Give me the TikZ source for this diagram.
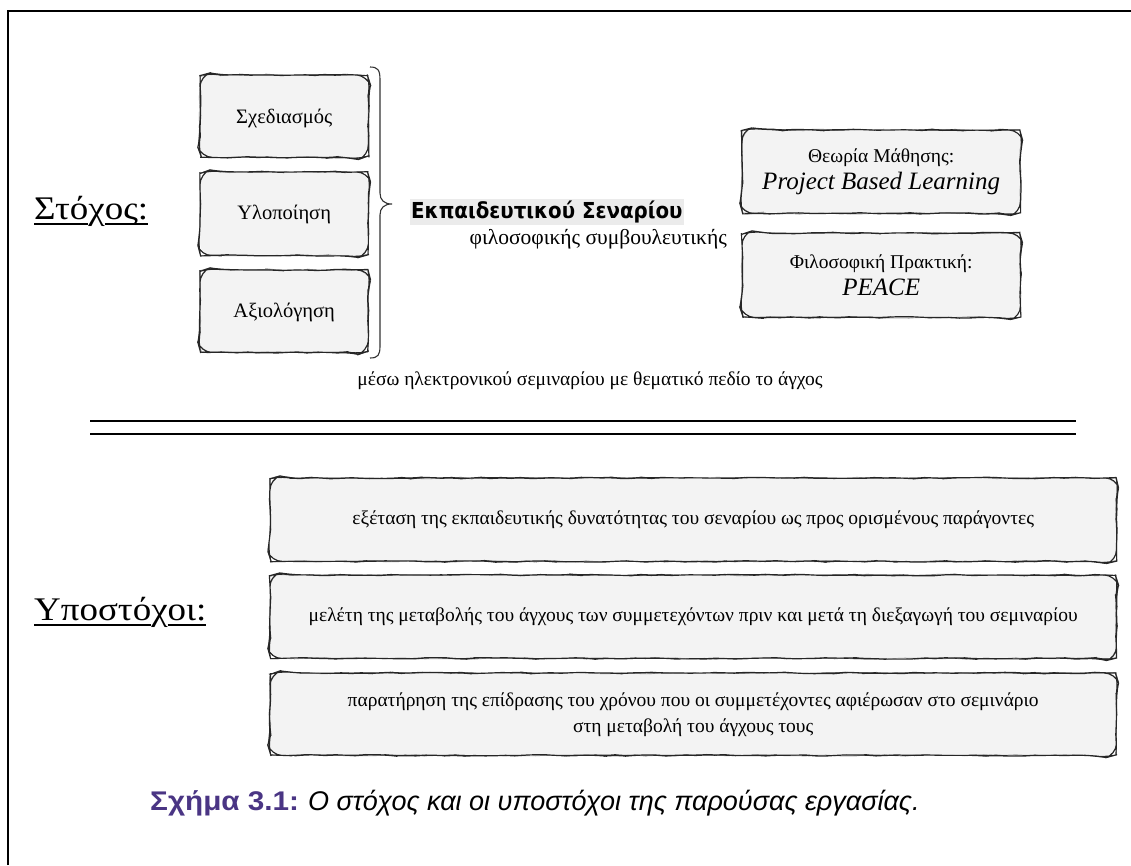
\documentclass[tikz,border=0pt]{standalone}
\usepackage{fontspec}
\setmainfont{Liberation Serif}
\newfontfamily\capfont{Liberation Sans}
\newfontfamily\capboldfont[FakeStretch=1.1]{Liberation Sans Bold}
\newfontfamily\headfont[FakeStretch=0.9]{DejaVu Sans Bold}
\newfontfamily\bigfont[FakeStretch=1.12]{Liberation Serif}
\usetikzlibrary{decorations.pathmorphing}
\definecolor{boxfill}{HTML}{F3F3F3}
\definecolor{capviolet}{HTML}{4A3584}
\definecolor{hilite}{HTML}{EBEBEB}
% underline a piece of text with a solid bar
\newcommand\ulpart[1]{\setbox0\hbox{#1}\rlap{\rule[-6pt]{\wd0}{1.8pt}}\box0}
\tikzset{
  fillbox/.style={fill=boxfill, rounded corners=11pt, inner sep=0pt, anchor=north west},
  sketchline/.style={line width=1.1pt, draw=black!85, rounded corners=11pt,
    decorate, decoration={random steps, segment length=10pt, amplitude=0.8pt}},
  sketchghost/.style={sketchline, line width=0.6pt, draw=black!40},
  plain/.style={inner sep=0pt},
  boxtext/.style={plain, font=\fontsize{19.5}{26}\selectfont, align=center},
  phasetext/.style={plain, font=\fontsize{20.5}{24}\selectfont},
  heading/.style={plain, anchor=base west, font=\bigfont\fontsize{33}{38}\selectfont},
}
% hand-drawn outline around a named box, starting mid-edge so the path closes on a straight run
\newcommand\sketchframe[1]{%
  \draw[sketchghost] ([xshift=3pt]#1.north) -- (#1.north east) -- (#1.south east)
    -- (#1.south west) -- (#1.north west) -- cycle;
  \draw[sketchline] (#1.north) -- (#1.north east) -- (#1.south east)
    -- (#1.south west) -- (#1.north west) -- cycle;}
\begin{document}
\begin{tikzpicture}[x=1pt,y=-1pt]
\useasboundingbox (0,0) rectangle (1131,865);
% frame on the left and top
\draw[line width=1.5pt] (8,865) -- (8,11) -- (1131,11);

% headings
\node[heading] (goal) at (34,219) {\ulpart{Στό}χ\ulpart{ος:}};
\node[heading] (subgoals) at (34,620) {\ulpart{Υποστό}χ\ulpart{οι:}};

% phases of the scenario
\node[fillbox, minimum width=168pt, minimum height=82pt] (design) at (200,75) {};
\sketchframe{design}
\node[phasetext] (designtxt) at ([yshift=-2pt]design.center) {Σχεδιασμός};
\node[fillbox, minimum width=168pt, minimum height=83pt] (impl) at (200,172) {};
\sketchframe{impl}
\node[phasetext] (impltxt) at ([yshift=-1pt]impl.center) {Υλοποίηση};
\node[fillbox, minimum width=168pt, minimum height=82pt] (eval) at (200,270) {};
\sketchframe{eval}
\node[phasetext] (evaltxt) at ([yshift=-1pt]eval.center) {Αξιολόγηση};

% curly brace grouping the three phases
\coordinate (btop) at (370,67);
\coordinate (bbot) at (370,358);
\coordinate (btip) at (392,204);
\draw[line width=1.1pt, black!80]
  (btop) .. controls (378,67) and (380,70) .. (380,80) -- (380,193)
  .. controls (380,200) and (384,204) .. (btip)
  .. controls (384,204) and (380,208) .. (380,215) -- (380,346)
  .. controls (380,355) and (378,358) .. (bbot);

% scenario title
\node[plain, fill=hilite, anchor=west, inner xsep=1pt, inner ysep=2pt] (title) at (410,212)
  {\headfont\fontsize{22}{26}\selectfont Εκπαιδευτικού Σεναρίου};
\node[plain, anchor=east, font=\fontsize{21.5}{24}\selectfont] (philo) at (727,239)
  {φιλοσοφικής συμβουλευτικής};

% theory and practice boxes
\node[fillbox, minimum width=278pt, minimum height=83pt] (theory) at (742,130) {};
\sketchframe{theory}
\node[boxtext] (theorytxt) at (theory.center)
  {Θεωρία Μάθησης:\\[1pt]
   {\fontsize{25}{28}\selectfont\itshape Project Based Learning}};
\node[fillbox, minimum width=278pt, minimum height=84pt] (practice) at (742,233) {};
\sketchframe{practice}
\node[boxtext] (practicetxt) at (practice.center)
  {Φιλοσοφική Πρακτική:\\[1pt]
   {\fontsize{25}{28}\selectfont\itshape PEACE}};

\node[boxtext] (medium) at (590,381)
  {μέσω ηλεκτρονικού σεμιναρίου με θεματικό πεδίο το άγχος};

% double separator
\coordinate (sepA) at (90,421);
\coordinate (sepB) at (1076,421);
\coordinate (sepC) at (90,434);
\coordinate (sepD) at (1076,434);
\draw[line width=1.2pt] (sepA) -- (sepB);
\draw[line width=1.2pt] (sepC) -- (sepD);

% sub-goals
\node[fillbox, minimum width=846pt, minimum height=83pt] (sg1) at (270,478) {};
\sketchframe{sg1}
\node[boxtext] (sg1txt) at (sg1.center)
  {εξέταση της εκπαιδευτικής δυνατότητας του σεναρίου ως προς ορισμένους παράγοντες};
\node[fillbox, minimum width=846pt, minimum height=83pt] (sg2) at (270,575) {};
\sketchframe{sg2}
\node[boxtext] (sg2txt) at (sg2.center)
  {μελέτη της μεταβολής του άγχους των συμμετεχόντων πριν και μετά τη διεξαγωγή του σεμιναρίου};
\node[fillbox, minimum width=846pt, minimum height=82pt] (sg3) at (270,673) {};
\sketchframe{sg3}
\node[boxtext] (sg3txt) at (sg3.center)
  {παρατήρηση της επίδρασης του χρόνου που οι συμμετέχοντες αφιέρωσαν στο σεμινάριο\\
   στη μεταβολή του άγχους τους};

% caption
\node[plain, anchor=west] (caption) at (150,803)
  {\fontsize{27}{32}\selectfont\textcolor{capviolet}{\capboldfont Σχήμα 3.1:} \capfont\itshape Ο στόχος και οι υποστόχοι της παρούσας εργασίας.};
\end{tikzpicture}
\end{document}
